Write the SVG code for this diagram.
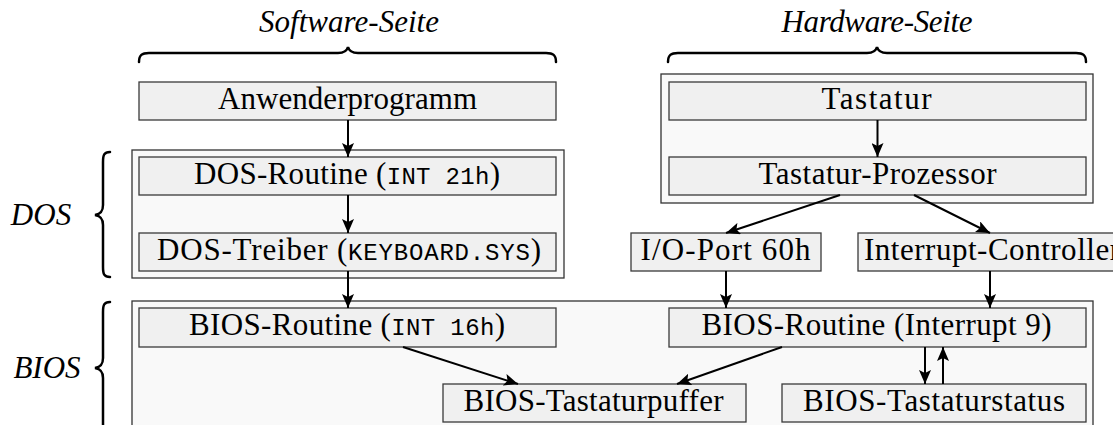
<svg xmlns="http://www.w3.org/2000/svg" width="1113" height="425" viewBox="0 0 1113 425">
  <style>
    .grp { fill: #f9f9f9; stroke: #333; stroke-width: 1.3; }
    .box { fill: #f0f0f0; stroke: #3a3a3a; stroke-width: 1.3; }
    .lbl { font-family: "Liberation Serif", "Times New Roman", serif; font-size: 31px; fill: #000; text-anchor: middle; }
    .tt { font-family: "Liberation Mono", "Courier New", monospace; font-size: 24px; }
    .it { font-family: "Liberation Serif", "Times New Roman", serif; font-size: 31px; font-style: italic; fill: #000; text-anchor: middle; }
    .brace { fill: none; stroke: #000; stroke-width: 2.5; stroke-linecap: round; }
    .edge { fill: none; stroke: #000; stroke-width: 2; }
  </style>
  <defs>
    <marker id="arrow" markerUnits="userSpaceOnUse" markerWidth="14" markerHeight="12" viewBox="0 0 14 12" refX="14" refY="6" orient="auto">
      <path d="M0,0 L14,6 L0,12 L3,6 Z" fill="#000"/>
    </marker>
  </defs>

  <!-- column headings with braces -->
  <g id="software-side">
    <text class="it" x="349" y="32" textLength="180">Software-Seite</text>
    <path class="brace" d="M139,62 C139,55 142,53 149,53 L338,53 C344,53 347,51 348,47 C349,51 352,53 358,53 L546,53 C553,53 556,55 556,62"/>
  </g>
  <g id="hardware-side">
    <text class="it" x="877" y="32" textLength="191">Hardware-Seite</text>
    <path class="brace" d="M668,62 C668,55 671,53 678,53 L867,53 C873,53 876,51 877,47 C878,51 881,53 887,53 L1076,53 C1083,53 1086,55 1086,62"/>
  </g>

  <!-- layer labels with braces -->
  <g id="dos-layer">
    <text class="it" x="41" y="225">DOS</text>
    <path class="brace" d="M110,152 C104,152 103,155 103,162 L103,205 C103,211 101,214 95,215 C101,216 103,219 103,225 L103,267 C103,274 104,277 110,277"/>
  </g>
  <g id="bios-layer">
    <text class="it" x="47" y="378">BIOS</text>
    <path class="brace" d="M110,302 C104,302 103,305 103,312 L103,358 C103,364 101,367 95,368 C101,369 103,372 103,378 L103,424 C103,431 104,434 110,434"/>
  </g>

  <!-- grouping frames -->
  <g id="dos-frame"><rect class="grp" x="132" y="150" width="432" height="128"/></g>
  <g id="hardware-frame"><rect class="grp" x="661" y="74" width="432" height="129"/></g>
  <g id="bios-frame"><rect class="grp" x="132" y="301" width="961" height="140"/></g>

  <!-- nodes -->
  <g id="anwenderprogramm">
    <rect class="box" x="139" y="82" width="417" height="38"/>
    <text class="lbl" x="347.5" y="109" textLength="259">Anwenderprogramm</text>
  </g>
  <g id="dos-routine">
    <rect class="box" x="139" y="157" width="417" height="38"/>
    <text class="lbl" x="347" y="184" textLength="306">DOS-Routine (<tspan class="tt">INT 21h</tspan>)</text>
  </g>
  <g id="dos-treiber">
    <rect class="box" x="139" y="233" width="417" height="38"/>
    <text class="lbl" x="349" y="260" textLength="384">DOS-Treiber (<tspan class="tt">KEYBOARD.SYS</tspan>)</text>
  </g>
  <g id="bios-routine-16h">
    <rect class="box" x="139" y="308" width="417" height="39"/>
    <text class="lbl" x="347" y="335" textLength="316">BIOS-Routine (<tspan class="tt">INT 16h</tspan>)</text>
  </g>
  <g id="tastatur">
    <rect class="box" x="669" y="82" width="417" height="38"/>
    <text class="lbl" x="876.5" y="109" textLength="110">Tastatur</text>
  </g>
  <g id="tastatur-prozessor">
    <rect class="box" x="669" y="157" width="417" height="38"/>
    <text class="lbl" x="877.5" y="184" textLength="238">Tastatur-Prozessor</text>
  </g>
  <g id="io-port">
    <rect class="box" x="631" y="233" width="190" height="38"/>
    <text class="lbl" x="725.5" y="260" textLength="170">I/O-Port 60h</text>
  </g>
  <g id="interrupt-controller">
    <rect class="box" x="858" y="233" width="280" height="38"/>
    <text class="lbl" x="864" y="260" textLength="256" style="text-anchor:start">Interrupt-Controller</text>
  </g>
  <g id="bios-routine-int9">
    <rect class="box" x="669" y="308" width="417" height="39"/>
    <text class="lbl" x="876.5" y="335" textLength="350">BIOS-Routine (Interrupt 9)</text>
  </g>
  <g id="bios-tastaturpuffer">
    <rect class="box" x="443" y="384" width="303" height="38"/>
    <text class="lbl" x="593.5" y="411" textLength="260">BIOS-Tastaturpuffer</text>
  </g>
  <g id="bios-tastaturstatus">
    <rect class="box" x="782" y="384" width="304" height="38"/>
    <text class="lbl" x="934" y="411" textLength="262">BIOS-Tastaturstatus</text>
  </g>

  <!-- connectors -->
  <g id="connectors">
    <line class="edge" x1="348" y1="120" x2="348" y2="157" marker-end="url(#arrow)"/>
    <line class="edge" x1="348" y1="195" x2="348" y2="233" marker-end="url(#arrow)"/>
    <line class="edge" x1="348" y1="271" x2="348" y2="308" marker-end="url(#arrow)"/>
    <line class="edge" x1="877.5" y1="120" x2="877.5" y2="157" marker-end="url(#arrow)"/>
    <line class="edge" x1="840" y1="195" x2="726" y2="233" marker-end="url(#arrow)"/>
    <line class="edge" x1="914" y1="195" x2="990" y2="233" marker-end="url(#arrow)"/>
    <line class="edge" x1="726" y1="271" x2="726" y2="308" marker-end="url(#arrow)"/>
    <line class="edge" x1="990" y1="271" x2="990" y2="308" marker-end="url(#arrow)"/>
    <line class="edge" x1="403" y1="347" x2="518" y2="384" marker-end="url(#arrow)"/>
    <line class="edge" x1="782" y1="347" x2="677" y2="384" marker-end="url(#arrow)"/>
    <line class="edge" x1="925" y1="347" x2="925" y2="384" marker-end="url(#arrow)"/>
    <line class="edge" x1="943" y1="384" x2="943" y2="347" marker-end="url(#arrow)"/>
  </g>
</svg>
